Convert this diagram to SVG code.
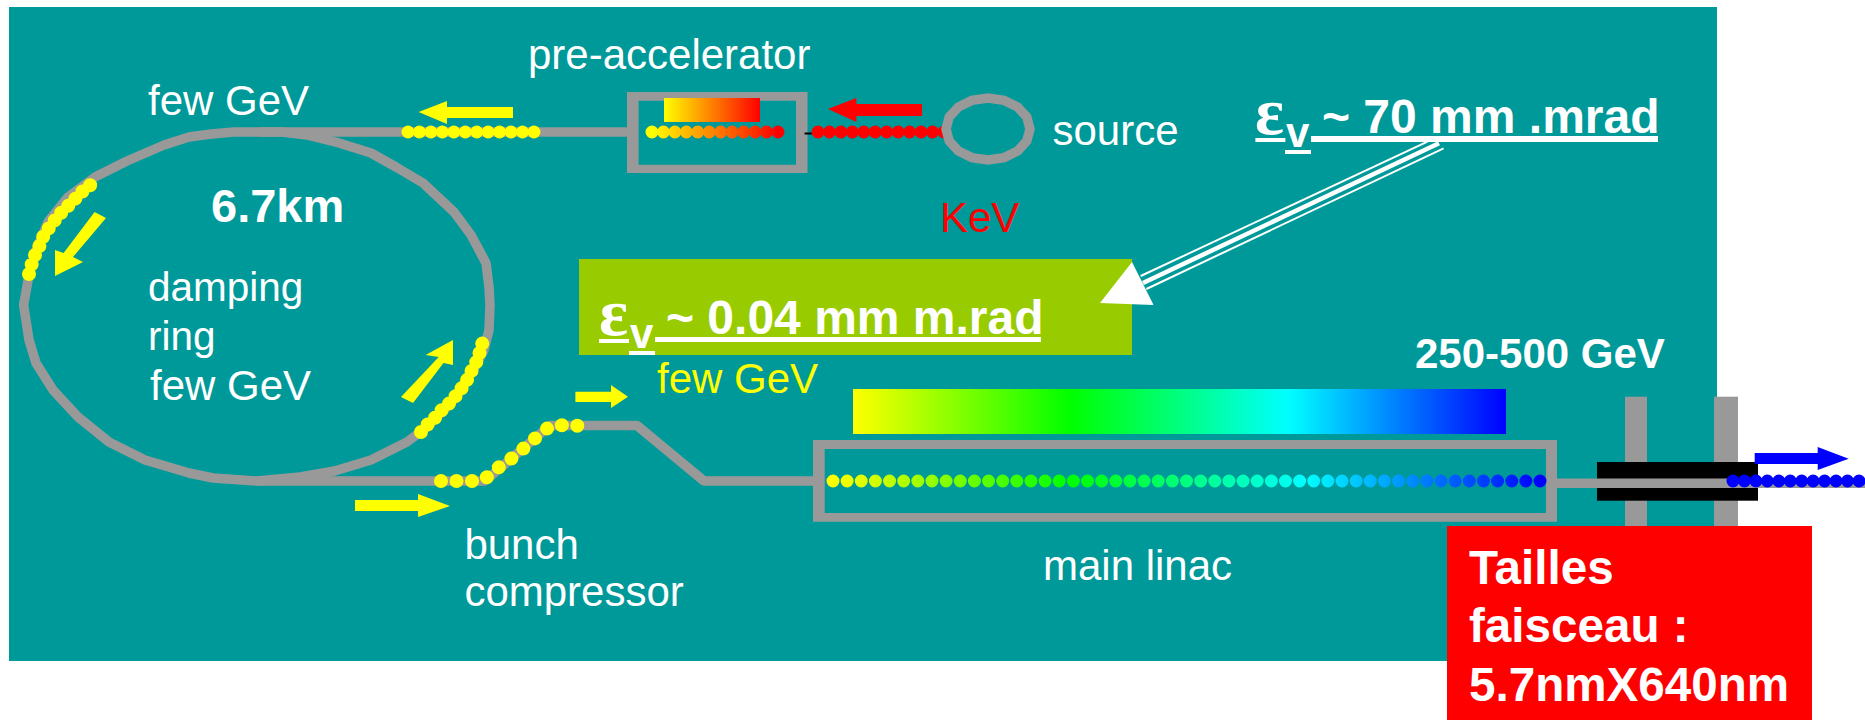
<svg xmlns="http://www.w3.org/2000/svg" width="1865" height="720" viewBox="0 0 1865 720">
<style>
text{font-family:"Liberation Sans",Arial,sans-serif;font-size:42px;fill:#fff}
.b{font-weight:bold}
.big{font-size:47.600px;font-weight:bold}
.em{font-size:48px;font-weight:bold}
.eps{font-family:"Liberation Serif","DejaVu Serif",serif;font-size:68px;font-weight:bold}
.track{fill:none;stroke:#999;stroke-width:9.500;stroke-linejoin:bevel}
.box{fill:#999;fill-rule:evenodd}
.dots{fill:none;stroke-width:13;stroke-linecap:round;stroke-dasharray:0 11.450}
.y{fill:#ff0}
.u{fill:#fff}
</style>
<defs>
<linearGradient id="preBar" gradientUnits="userSpaceOnUse" x1="664" y1="0" x2="760" y2="0"><stop offset="0" stop-color="#ff0"/><stop offset="1" stop-color="#f00"/></linearGradient>
<linearGradient id="preDots" gradientUnits="userSpaceOnUse" x1="652" y1="0" x2="778" y2="0"><stop offset="0" stop-color="#ff0"/><stop offset="1" stop-color="#f00"/></linearGradient>
<linearGradient id="linBar" gradientUnits="userSpaceOnUse" x1="853" y1="0" x2="1506" y2="0"><stop offset="0" stop-color="#ff0"/><stop offset=".333" stop-color="#0f0"/><stop offset=".667" stop-color="#0ff"/><stop offset="1" stop-color="#00f"/></linearGradient>
<linearGradient id="linDots" gradientUnits="userSpaceOnUse" x1="833" y1="0" x2="1540" y2="0"><stop offset="0" stop-color="#ff0"/><stop offset=".333" stop-color="#0f0"/><stop offset=".667" stop-color="#0ff"/><stop offset="1" stop-color="#00f"/></linearGradient>
</defs>

<rect id="background" x="9" y="7" width="1708" height="654" fill="#099"/>

<g id="connectors">
<path class="track" d="M259 132H627"/>
<path class="track" d="M257 481H485L550 425.500H637L704 481H815"/>
<path class="track" d="M1557 483.300H1597"/>
</g>

<g id="damping-ring">
<path class="track" d="M23.600 305L28.600 277L36 250L48 222L68 197L95 177L127 161L164 145L189 137L211 134L234 132H282L307 135L339 143L371 153L396 167L423 183L454 212L471 235L486 263L489 287L490 305L489 330L484 350L475 367L451 403L427 427L407 442L371 460L334.500 471L300 477L257 481L213 478L189 473L145 460L109 442L78 417L53 390L36 363L29 340Z"/>
<path class="dots" stroke="#ff0" style="stroke-dasharray:0 10;stroke-width:14" d="M29 274L32 263L35 255L39 247L43 237L49 228L55 220L61 213L70 204L77 197L84 190L93 183"/>
<path class="dots" stroke="#ff0" style="stroke-dasharray:0 10;stroke-width:14" d="M421 432L429 423L436 417L443.500 408L451 402L458 393L464 385L470 375L473 367L479 358L480 348L483 342"/>
<polygon class="y" points="94.600,212 106,218 73,257 83,262 55,276 55,250 63.600,253"/>
<polygon class="y" points="453,340 453,365 443.500,363 413,403 401,397 438.700,357 425.600,355"/>
<text x="148" y="115">few GeV</text>
<text class="big" style="font-size:47px" x="211" y="222">6.7km</text>
<text style="font-size:40.500px" x="148" y="301">damping</text>
<text style="font-size:40.500px" x="148" y="350">ring</text>
<text x="150" y="400">few GeV</text>
</g>

<g id="transfer-line">
<line class="dots" stroke="#ff0" x1="408" y1="132" x2="534" y2="132"/>
<polygon class="y" points="418.600,112 447,101 447,107 513,107 513,118 447,118 447,124"/>
</g>

<g id="pre-accelerator">
<path class="box" d="M627 92H807.500V173H627ZM638.600 100.700V164.700H796V100.700Z"/>
<rect x="664" y="98" width="96" height="24" fill="url(#preBar)"/>
<line class="dots" stroke="url(#preDots)" x1="652" y1="132" x2="778" y2="132"/>
<rect x="804.600" y="132.500" width="8" height="2" fill="#000"/>
<text x="528" y="69">pre-accelerator</text>
</g>

<g id="source">
<line class="dots" stroke="#f00" x1="818" y1="132" x2="944" y2="132"/>
<polygon fill="none" stroke="#999" stroke-width="9.500" points="1030,129 1026.800,140.900 1017.700,150.900 1004.100,157.600 988,160 971.900,157.600 958.300,150.900 949.200,140.900 946,129 949.200,117.100 958.300,107.100 971.900,100.400 988,98 1004.100,100.400 1017.700,107.100 1026.800,117.100"/>
<polygon fill="#f00" points="828,109 856.400,98 856.400,104 922,104 922,116 856.400,116 856.400,122"/>
<text x="1052.500" y="145">source</text>
<text x="940" y="232" style="fill:#f00">KeV</text>
</g>

<g id="emittance-final">
<rect x="579" y="259" width="553" height="96" fill="#9c0"/>
<text class="eps" x="599" y="335">ε</text>
<text class="b" x="630" y="348">v</text>
<text class="em" x="666" y="334">~ 0.04 mm m.rad</text>
<rect class="u" x="599" y="339" width="30" height="4"/>
<rect class="u" x="629" y="351" width="26" height="4"/>
<rect class="u" x="655" y="337" width="386" height="5"/>
</g>

<g id="emittance-initial">
<text class="eps" x="1255" y="134">ε</text>
<text class="b" x="1286" y="147">v</text>
<text class="em" x="1322" y="133">~ 70 mm .mrad</text>
<rect class="u" x="1255.400" y="138" width="30" height="4"/>
<rect class="u" x="1285" y="150" width="26" height="4"/>
<rect class="u" x="1311" y="136" width="347" height="6"/>
</g>

<g id="emittance-arrow">
<line x1="1427.500" y1="141.700" x2="1140.700" y2="276" stroke="#fff" stroke-width="2"/>
<line x1="1439" y1="143.300" x2="1143" y2="283" stroke="#fff" stroke-width="4.500"/>
<line x1="1443.600" y1="148.300" x2="1146.400" y2="289" stroke="#fff" stroke-width="2"/>
<polygon fill="#fff" points="1132,262 1153.600,305 1100,303"/>
</g>

<g id="bunch-compressor">
<path class="dots" stroke="#ff0" style="stroke-dasharray:0 15.500;stroke-width:14" d="M441 481H473L486 478L495 470L506.500 462L519 453L528 444L538 436L549 427L564 425L581 426"/>
<polygon class="y" points="355,500 418,500 418,494 450,506 418,517 418,511 355,511"/>
<polygon class="y" points="575.400,391.700 611,391.700 611,385 628,396.700 611,408 611,402 575.400,402"/>
<text x="657" y="393" style="fill:#ff0">few GeV</text>
<text x="464.400" y="559">bunch</text>
<text x="464.400" y="606">compressor</text>
</g>

<g id="main-linac">
<rect x="853" y="389" width="653" height="45" fill="url(#linBar)"/>
<path class="box" d="M813 440H1557V521.700H813ZM824.700 449V513H1546V449Z"/>
<line class="dots" stroke="url(#linDots)" style="stroke-dasharray:0 14.140" x1="833" y1="481" x2="1541" y2="481"/>
<text x="1043" y="580">main linac</text>
<text class="b" x="1415" y="368">250-500 GeV</text>
</g>

<g id="final-focus">
<rect x="1625" y="396.700" width="22" height="130" fill="#999"/>
<rect x="1714" y="396.700" width="24" height="130" fill="#999"/>
<rect x="1597" y="462" width="161" height="38.700" fill="#000"/>
<path class="track" d="M1597 483.300H1865"/>
<line class="dots" stroke="#00f" x1="1733" y1="481" x2="1865" y2="481"/>
<polygon fill="#00f" points="1754.700,453 1817.700,453 1817.700,447 1848.700,458.700 1817.700,470 1817.700,464 1754.700,464"/>
</g>

<g id="beam-size">
<rect x="1447" y="526" width="365" height="194" fill="#f00"/>
<text class="big" x="1469" y="584">Tailles</text>
<text class="big" x="1469" y="642">faisceau :</text>
<text class="big" x="1469" y="701">5.7nmX640nm</text>
</g>
</svg>
